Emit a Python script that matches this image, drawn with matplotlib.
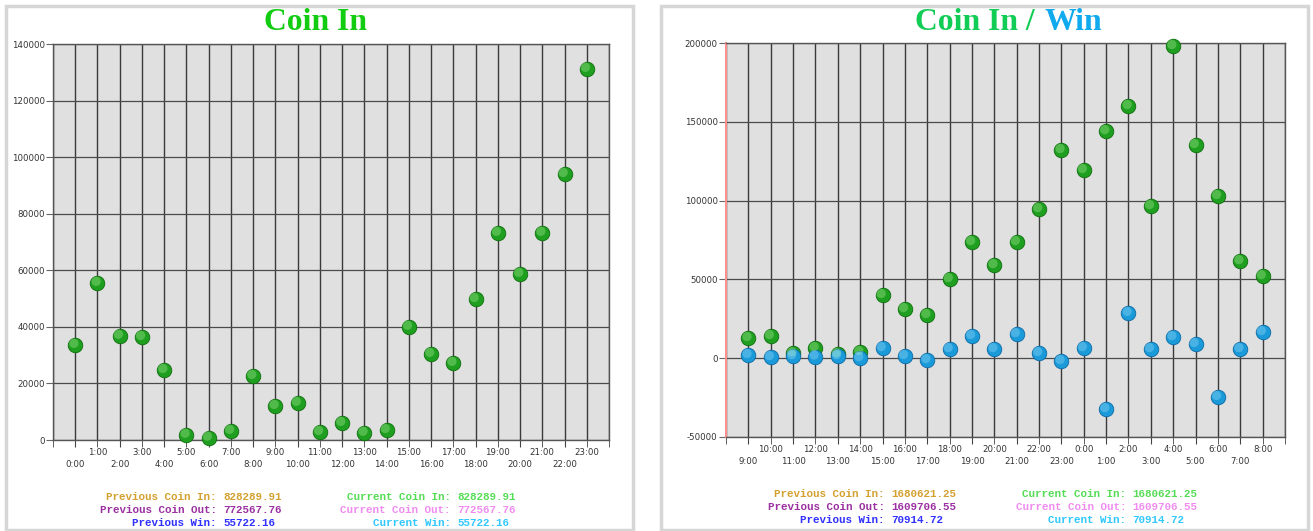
import numpy as np
import matplotlib.pyplot as plt
from matplotlib.patches import Rectangle
from matplotlib.transforms import offset_copy

# ---- data ----
hours_left = [f"{h}:00" for h in range(24)]
coin_in_left = [33600, 55500, 36800, 36400, 24700, 1800, 800, 3200, 22600, 12000,
                13100, 2800, 6000, 2500, 3500, 40000, 30400, 27200, 49800, 73200,
                58700, 73200, 94000, 131200]

hours_right = [f"{h % 24}:00" for h in range(9, 33)]
coin_in_right = [12700, 14000, 3000, 6300, 2500, 3800, 40000, 31100, 27300, 50100,
                 73600, 59000, 73600, 94500, 132000, 119300, 144000, 159900, 96400,
                 198000, 135200, 102800, 61500, 52000]
win_right = [1900, 600, 1200, 1000, 1200, 0, 6300, 1300, -1300, 5700, 14000, 5700,
             15200, 3200, -1900, 6300, -32400, 28600, 5700, 13300, 8900, -24700,
             5700, 16500]

left_summary = [("Previous Coin In:", "828289.91", "#d4a030"),
                ("Previous Coin Out:", "772567.76", "#9b30a0"),
                ("Previous Win:", "55722.16", "#3030ff")]
left_current = [("Current Coin In:", "828289.91", "#55dd55"),
                ("Current Coin Out:", "772567.76", "#f08cf0"),
                ("Current Win:", "55722.16", "#30c8ff")]
right_summary = [("Previous Coin In:", "1680621.25", "#d4a030"),
                 ("Previous Coin Out:", "1609706.55", "#9b30a0"),
                 ("Previous Win:", "70914.72", "#3030ff")]
right_current = [("Current Coin In:", "1680621.25", "#55dd55"),
                 ("Current Coin Out:", "1609706.55", "#f08cf0"),
                 ("Current Win:", "70914.72", "#30c8ff")]

W, H = 1313, 531
fig = plt.figure(figsize=(W / 100, H / 100), dpi=100)


def px(x, y):
    return x / W, 1 - y / H


def balls(ax, x, y, base, edge, light):
    ax.scatter(x, y, s=110, color=base, edgecolors=edge, linewidths=0.6, zorder=5, clip_on=False)
    tr = offset_copy(ax.transData, fig=fig, x=-1.0, y=1.2, units='points')
    ax.scatter(x, y, s=45, color=light, edgecolors='none', alpha=0.35, zorder=6,
               clip_on=False, transform=tr)


def setup(ax, labels, ylim, yticks):
    n = len(labels)
    ax.set_facecolor('#e0e0e0')
    ax.set_xlim(-1, n)
    ax.set_ylim(*ylim)
    ax.set_yticks(yticks)
    ax.set_yticklabels([str(v) for v in yticks], fontsize=6.2, color='#333333')
    even = list(range(0, n, 2))
    odd = list(range(1, n, 2)) + [-1, n]
    ax.set_xticks(even)
    ax.set_xticklabels([labels[i] for i in even], fontsize=6.2, color='#333333')
    ax.set_xticks(odd, minor=True)
    ax.set_xticklabels([labels[i] for i in range(1, n, 2)] + ['', ''], minor=True,
                       fontsize=6.2, color='#333333')
    ax.tick_params(axis='x', which='major', length=5, pad=9.5, color='#444444')
    ax.tick_params(axis='x', which='minor', length=5, pad=0.8, color='#444444')
    ax.tick_params(axis='y', length=5, pad=1, color='#666666')
    ax.grid(True, axis='x', which='both', color='#3a3a3a', lw=1)
    ax.grid(True, axis='y', color='#4a4a4a', lw=0.9)
    ax.set_axisbelow(True)
    for s in ax.spines.values():
        s.set_color('#555555')
        s.set_linewidth(1)


# ---- left chart ----
axl = fig.add_axes([53 / W, 1 - 440 / H, 556 / W, 396 / H])
setup(axl, hours_left, (0, 140000), list(range(0, 140001, 20000)))
xl = np.arange(len(hours_left))
balls(axl, xl, coin_in_left, '#1f9f1f', '#0d6e0d', '#aef0a0')

# ---- right chart ----
axr = fig.add_axes([726 / W, 1 - 437 / H, 559 / W, 394 / H])
setup(axr, hours_right, (-50000, 200000), list(range(-50000, 200001, 50000)))
axr.spines['left'].set_color('#ff9090')
axr.spines['left'].set_linewidth(1.5)
xr = np.arange(len(hours_right))
balls(axr, xr, coin_in_right, '#1f9f1f', '#0d6e0d', '#aef0a0')
balls(axr, xr, win_right, '#1a9ad8', '#0b6aa5', '#a0e0ff')

# ---- panel frames ----
for x0, x1 in [(6, 633), (661, 1308)]:
    fig.patches.append(Rectangle(px(x0, 530), (x1 - x0) / W, 524 / H, transform=fig.transFigure,
                                 fill=False, edgecolor='#d6d6d6', lw=2.5, zorder=0))

# ---- titles ----
tfont = dict(family='Liberation Serif', weight='bold', fontsize=22.8, va='center')
fig.text(*px(316, 22), "Coin In", color='#11cc11', ha='center', **tfont)
t1 = fig.text(*px(915, 22), "Coin In /", color='#11cc55', ha='left', **tfont)
fig.canvas.draw()
bb = t1.get_window_extent()
fig.text(bb.x1 / W + 10 / W, 1 - 22 / H, "Win", color='#11aaee', ha='left', **tfont)

# ---- summary text ----
mfont = dict(family='Liberation Mono', weight='bold', fontsize=7.8, va='center')


def summary(rows, colon_x, ys):
    for (lab, val, col), y in zip(rows, ys):
        fig.text(*px(colon_x, y), lab, color=col, ha='right', **mfont)
        fig.text(*px(colon_x + 6.5, y), val, color=col, ha='left', **mfont)


summary(left_summary, 217, [497, 510, 523])
summary(left_current, 451, [497, 510, 523])
summary(right_summary, 885, [494, 507, 520])
summary(right_current, 1126, [494, 507, 520])

fig.savefig("out.png", dpi=100, facecolor='white')
